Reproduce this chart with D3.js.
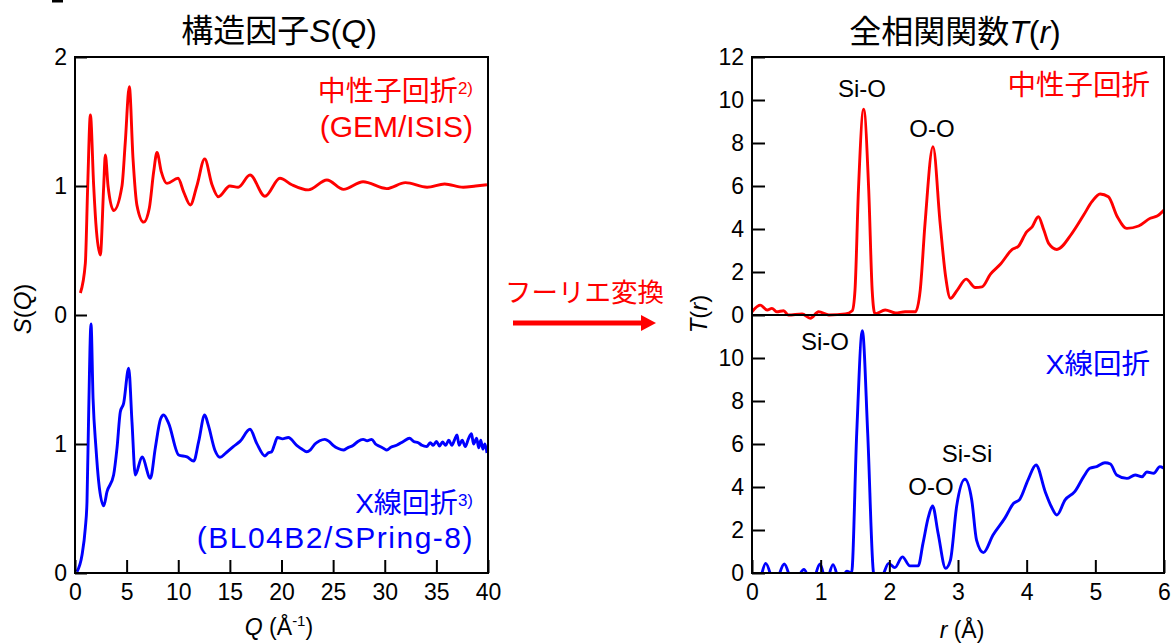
<!DOCTYPE html>
<html>
<head>
<meta charset="utf-8">
<script src="https://cdn.jsdelivr.net/npm/d3@7"></script>
<style>
  html, body { margin: 0; padding: 0; background: #fff; }
  svg { display: block; }
  text { font-family: "Liberation Sans", "Noto Sans CJK JP", sans-serif; }
</style>
</head>
<body>
<svg id="chart" width="1174" height="644"></svg>
<script>
// ---- S(Q): neutron diffraction (GEM/ISIS), [Q, S] ----
const sqNeutron = [
  [0.52,0.17],[1.0,0.40],[1.23,1.0],[1.49,1.55],[1.81,1.0],[2.03,0.70],[2.45,0.465],
  [2.78,1.0],[2.94,1.24],[3.2,1.0],[3.75,0.81],[4.55,1.0],[4.87,1.34],[5.26,1.77],
  [5.62,1.21],[6.0,0.85],[6.65,0.72],[7.2,0.83],[7.62,1.11],[7.94,1.26],[8.36,1.11],
  [8.91,1.02],[9.98,1.06],[10.52,0.955],[11.17,0.853],[11.8,1.0],[12.56,1.21],
  [13.27,1.01],[13.88,0.917],[15.0,1.0],[15.8,0.99],[16.95,1.085],[18.4,0.92],
  [19.85,1.06],[21.0,1.01],[22.6,0.97],[24.4,1.047],[26.0,0.974],[27.9,1.033],
  [30.2,0.98],[32.0,1.026],[34.1,0.99],[35.8,1.015],[37.6,0.99],[38.8,1.0],[39.9,1.01]
];

// ---- S(Q): X-ray diffraction (BL04B2/SPring-8), [Q, S] ----
const sqXray = [
  [0.19,0.01],[0.68,0.14],[1.0,0.35],[1.16,0.55],[1.32,1.22],[1.55,1.93],[1.75,1.35],
  [2.03,0.97],[2.29,0.71],[2.78,0.52],[3.10,0.63],[3.74,0.76],[4.07,0.97],[4.39,1.25],
  [4.71,1.315],[5.2,1.587],[5.52,1.17],[5.84,0.76],[6.49,0.90],[7.3,0.734],[7.78,0.97],
  [8.27,1.19],[8.59,1.225],[9.07,1.16],[10.04,0.915],[10.85,0.90],[11.5,0.868],
  [11.98,1.02],[12.56,1.225],[12.9,1.15],[13.56,0.95],[14.04,0.897],[14.6,0.93],
  [15.33,0.98],[15.98,1.02],[16.95,1.114],[17.6,1.005],[18.4,0.907],[18.7,0.93],
  [19.05,0.94],[19.3,0.99],[19.6,1.05],[20.1,1.04],[20.66,1.05],[21.47,0.99],
  [22.0,0.96],[22.44,0.94],[22.8,0.955],[23.24,1.0],[23.7,1.025],[24.2,1.036],
  [24.6,1.02],[25.0,0.99],[25.5,0.965],[26.0,0.953],[26.4,0.97],[26.96,0.99],
  [27.4,1.02],[27.9,1.036],[28.3,1.025],[28.73,1.036],[29.1,1.0],[29.54,0.98],
  [29.9,0.965],[30.2,0.953],[30.6,0.975],[31.15,0.99],[31.8,1.02],[32.4,1.044],
  [32.8,1.02],[33.25,1.01],[33.6,0.99],[34.06,0.98],[34.4,1.01],[34.7,0.99],
  [35.0,1.02],[35.3,0.985],[35.6,1.015],[35.9,0.99],[36.2,1.03],[36.5,0.99],
  [36.8,1.04],[37.0,1.07],[37.2,0.99],[37.5,1.03],[37.8,0.98],[38.1,1.04],[38.4,1.08],
  [38.6,1.0],[38.9,1.045],[39.1,0.97],[39.3,1.03],[39.5,0.96],[39.7,1.0],[39.9,0.93]
];

// ---- T(r): neutron diffraction, [r, T] ----
const trNeutron = [
  [0,0.15],[0.12,0.46],[0.22,0.23],[0.29,0.31],[0.36,0.15],[0.46,0.2],[0.53,0.0],
  [0.73,0.05],[0.85,-0.15],[0.97,0.15],[1.12,0.0],[1.36,0.05],[1.46,0.2],[1.5,1.16],
  [1.55,5.8],[1.626,9.57],[1.70,5.8],[1.75,1.16],[1.79,0.05],[1.94,0.23],[2.09,0.1],
  [2.23,0.15],[2.38,0.15],[2.45,1.16],[2.52,4.26],[2.636,7.83],[2.74,4.26],[2.82,1.78],
  [2.89,0.78],[2.99,1.16],[3.12,1.67],[3.25,1.28],[3.35,1.31],[3.47,1.89],[3.62,2.37],
  [3.79,3.05],[3.88,3.2],[4.0,3.87],[4.08,4.1],[4.17,4.57],[4.25,3.95],[4.32,3.33],
  [4.44,3.05],[4.66,3.8],[4.83,4.65],[4.95,5.27],[5.07,5.63],[5.19,5.5],[5.32,4.57],
  [5.46,4.03],[5.63,4.14],[5.80,4.5],[5.90,4.6],[6.0,4.88]
];

// ---- T(r): X-ray diffraction, [r, T] ----
const trXray = [
  [0,-0.5],[0.1,-0.4],[0.2,0.45],[0.33,-0.5],[0.47,0.42],[0.6,-0.5],[0.757,0.16],
  [0.87,-0.5],[0.99,0.42],[1.08,-0.4],[1.18,0.39],[1.28,-0.4],[1.38,0.08],[1.45,0.0],
  [1.525,6.5],[1.607,11.27],[1.685,6.5],[1.77,0.0],[1.85,-0.6],[1.92,0.0],[1.99,0.45],
  [2.08,0.25],[2.19,0.75],[2.30,0.33],[2.42,0.33],[2.49,1.38],[2.57,2.62],[2.63,3.12],
  [2.71,1.85],[2.82,0.22],[2.89,0.6],[2.98,3.1],[3.10,4.36],[3.20,3.4],[3.27,1.53],
  [3.37,0.95],[3.51,1.77],[3.68,2.54],[3.81,3.24],[3.90,3.43],[4.02,4.33],[4.136,5.02],
  [4.27,3.78],[4.36,3.08],[4.44,2.70],[4.56,3.4],[4.70,3.78],[4.83,4.48],[4.92,4.87],
  [5.02,4.95],[5.14,5.13],[5.22,5.07],[5.31,4.56],[5.46,4.4],[5.58,4.56],[5.68,4.48],
  [5.75,4.7],[5.85,4.64],[5.94,4.95],[6.0,4.87]
];

// Stacked axes: the neutron curve is shifted up by one panel.
const sqTickValues = [0, 1, 2, 3, 4];
const sqTickLabels = ["0", "1", "0", "1", "2"];
const qTickValues = [0, 5, 10, 15, 20, 25, 30, 35, 40];
const trTickValues = [0, 2, 4, 6, 8, 10, 12, 14, 16, 18, 20, 22, 24];
const trTickLabels = ["0", "2", "4", "6", "8", "10", "0", "2", "4", "6", "8", "10", "12"];
const rTickValues = [0, 1, 2, 3, 4, 5, 6];
const sqOffset = 2;
const trOffset = 12;

const RED = "#ff0000", BLUE = "#0000ff";
const svg = d3.select("#chart");

const L = { x0: 75, x1: 488, y0: 57, y1: 573 };
const R = { x0: 752, x1: 1164, y0: 57, y1: 573 };

const xQ = d3.scaleLinear().domain([0, 40]).range([L.x0, L.x1]);
const yS = d3.scaleLinear().domain([0, 4]).range([L.y1, L.y0]);
const xR = d3.scaleLinear().domain([0, 6]).range([R.x0, R.x1]);
const yT = d3.scaleLinear().domain([0, 24]).range([R.y1, R.y0]);

// clip regions
const defs = svg.append("defs");
defs.append("clipPath").attr("id", "clipL").append("rect")
  .attr("x", L.x0).attr("y", L.y0).attr("width", L.x1 - L.x0).attr("height", L.y1 - L.y0);
defs.append("clipPath").attr("id", "clipRtop").append("rect")
  .attr("x", R.x0).attr("y", R.y0).attr("width", R.x1 - R.x0).attr("height", yT(11) - R.y0);
defs.append("clipPath").attr("id", "clipRbot").append("rect")
  .attr("x", R.x0).attr("y", yT(12)).attr("width", R.x1 - R.x0).attr("height", R.y1 - yT(12));

// ---- curves ----
const lineSQ = off => d3.line().x(d => xQ(d[0])).y(d => yS(d[1] + off)).curve(d3.curveMonotoneX);
const lineTR = off => d3.line().x(d => xR(d[0])).y(d => yT(d[1] + off)).curve(d3.curveMonotoneX);

svg.append("path").datum(sqNeutron).attr("clip-path", "url(#clipL)")
  .attr("d", lineSQ(sqOffset)).attr("fill", "none").attr("stroke", RED).attr("stroke-width", 2.9)
  .attr("stroke-linejoin", "round");
svg.append("path").datum(sqXray).attr("clip-path", "url(#clipL)")
  .attr("d", lineSQ(0)).attr("fill", "none").attr("stroke", BLUE).attr("stroke-width", 2.9)
  .attr("stroke-linejoin", "round");
svg.append("path").datum(trNeutron).attr("clip-path", "url(#clipRtop)")
  .attr("d", lineTR(trOffset)).attr("fill", "none").attr("stroke", RED).attr("stroke-width", 2.9)
  .attr("stroke-linejoin", "round");
svg.append("path").datum(trXray).attr("clip-path", "url(#clipRbot)")
  .attr("d", lineTR(0)).attr("fill", "none").attr("stroke", BLUE).attr("stroke-width", 2.9)
  .attr("stroke-linejoin", "round");

// ---- axes ----
function styleAxis(g) {
  g.select(".domain").remove();
  g.selectAll(".tick line").attr("stroke", "#000").attr("stroke-width", 2);
  g.selectAll(".tick text").attr("fill", "#000")
    .style("font-size", "23px").style("font-family", "'Liberation Sans', sans-serif");
}

svg.append("g").attr("transform", `translate(${L.x0},0)`)
  .call(d3.axisLeft(yS).tickValues(sqTickValues).tickFormat((d, i) => sqTickLabels[i])
    .tickSizeInner(-12).tickSizeOuter(0).tickPadding(8))
  .call(styleAxis);
svg.append("g").attr("transform", `translate(0,${L.y1})`)
  .call(d3.axisBottom(xQ).tickValues(qTickValues).tickFormat(d3.format("d"))
    .tickSizeInner(-13).tickSizeOuter(0).tickPadding(11))
  .call(styleAxis);

svg.append("g").attr("transform", `translate(${R.x0},0)`)
  .call(d3.axisLeft(yT).tickValues(trTickValues).tickFormat((d, i) => trTickLabels[i])
    .tickSizeInner(-13).tickSizeOuter(0).tickPadding(8))
  .call(styleAxis);
svg.append("g").attr("transform", `translate(0,${R.y1})`)
  .call(d3.axisBottom(xR).tickValues(rTickValues).tickFormat(d3.format("d"))
    .tickSizeInner(-13).tickSizeOuter(0).tickPadding(11))
  .call(styleAxis);

// frames
[L, R].forEach(p => {
  svg.append("rect").attr("x", p.x0).attr("y", p.y0)
    .attr("width", p.x1 - p.x0).attr("height", p.y1 - p.y0)
    .attr("fill", "none").attr("stroke", "#000").attr("stroke-width", 2);
});
// panel divider on T(r)
svg.append("line").attr("x1", R.x0).attr("x2", R.x1)
  .attr("y1", yT(trOffset)).attr("y2", yT(trOffset))
  .attr("stroke", "#000").attr("stroke-width", 2);

// ---- text helpers ----
function rich(x, y, parts, opts = {}) {
  const t = svg.append("text").attr("x", x).attr("y", y)
    .attr("text-anchor", opts.anchor || "start")
    .attr("fill", opts.fill || "#000")
    .style("font-size", (opts.size || 24) + "px");
  if (opts.spacing) t.style("letter-spacing", opts.spacing + "px");
  if (opts.rotate) t.attr("transform", `rotate(${opts.rotate},${x},${y})`);
  parts.forEach(p => {
    const s = t.append("tspan").text(p.t);
    if (p.i) s.style("font-style", "italic");
    if (p.size) s.style("font-size", p.size + "px");
    if (p.dy) s.attr("dy", p.dy);
  });
  return t;
}

// titles
rich(279, 42, [{ t: "構造因子" }, { t: "S", i: 1 }, { t: "(" }, { t: "Q", i: 1 }, { t: ")" }],
  { anchor: "middle", size: 32 });
rich(955, 43, [{ t: "全相関関数" }, { t: "T", i: 1 }, { t: "(" }, { t: "r", i: 1 }, { t: ")" }],
  { anchor: "middle", size: 32 });

// series labels, S(Q)
rich(473, 101, [{ t: "中性子回折" }, { t: "2)", size: 17, dy: -7 }], { anchor: "end", fill: RED, size: 28 });
rich(473, 137, [{ t: "(GEM/ISIS)" }], { anchor: "end", fill: RED, size: 30 });
rich(473, 513, [{ t: "X線回折" }, { t: "3)", size: 17, dy: -7 }], { anchor: "end", fill: BLUE, size: 28 });
rich(474, 548, [{ t: "(BL04B2/SPring-8)" }], { anchor: "end", fill: BLUE, size: 30, spacing: 1.5 });

// series labels, T(r)
rich(1150, 95, [{ t: "中性子回折" }], { anchor: "end", fill: RED, size: 28.5 });
rich(1150, 374, [{ t: "X線回折" }], { anchor: "end", fill: BLUE, size: 28.5 });

// peak assignments
rich(862, 97, [{ t: "Si-O" }], { anchor: "middle", size: 24 });
rich(932, 137, [{ t: "O-O" }], { anchor: "middle", size: 24 });
rich(825, 350, [{ t: "Si-O" }], { anchor: "middle", size: 24 });
rich(931, 495, [{ t: "O-O" }], { anchor: "middle", size: 24 });
rich(967, 462, [{ t: "Si-Si" }], { anchor: "middle", size: 24 });

// axis titles
rich(31, 309, [{ t: "S", i: 1 }, { t: "(" }, { t: "Q", i: 1 }, { t: ")" }],
  { anchor: "middle", size: 24, rotate: -90 });
rich(707, 314, [{ t: "T", i: 1 }, { t: "(" }, { t: "r", i: 1 }, { t: ")" }],
  { anchor: "middle", size: 24, rotate: -90 });
rich(279, 635, [{ t: "Q", i: 1 }, { t: " (Å" }, { t: "-1", size: 15, dy: -9 }, { t: ")", dy: 9 }],
  { anchor: "middle", size: 23 });
rich(962, 638, [{ t: "r", i: 1 }, { t: " (Å)" }], { anchor: "middle", size: 23 });

// Fourier transform arrow
rich(505, 302, [{ t: "フーリエ変換" }], { fill: RED, size: 26.5 });
svg.append("line").attr("x1", 513).attr("x2", 643).attr("y1", 323).attr("y2", 323)
  .attr("stroke", RED).attr("stroke-width", 5);
svg.append("path").attr("d", "M641,315 L656,323 L641,331 Z").attr("fill", RED);

// small edge mark in the top-left corner
svg.append("rect").attr("x", 52).attr("y", 0).attr("width", 11).attr("height", 2.5).attr("fill", "#000");
</script>
</body>
</html>
